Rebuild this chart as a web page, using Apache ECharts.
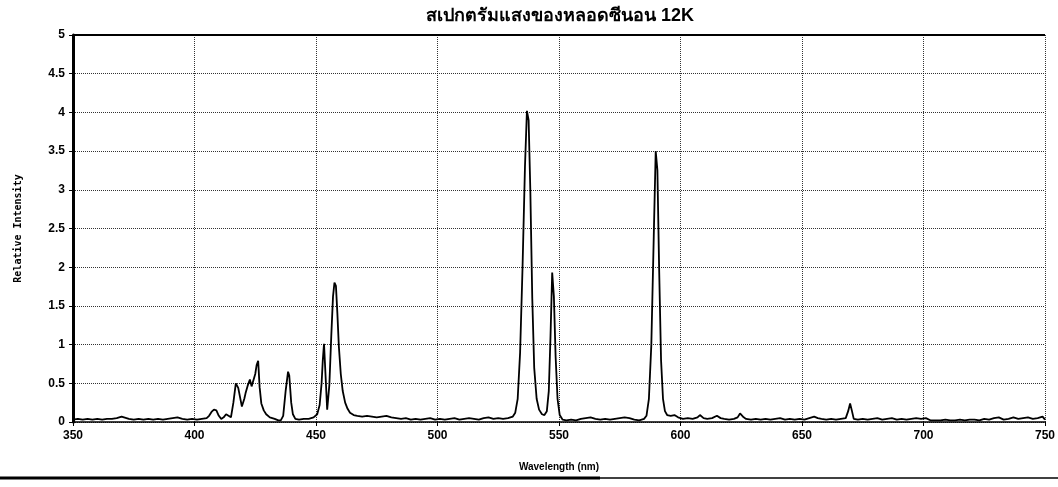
<!DOCTYPE html>
<html>
<head>
<meta charset="utf-8">
<title>Spectrum</title>
<script src="https://cdn.jsdelivr.net/npm/echarts@6/dist/echarts.min.js"></script>
<style>
	html, body { margin: 0; padding: 0; background: #fff; }
	#chart { width: 1058px; height: 487px; }
</style>
</head>
<body>
<div id="chart"></div>
<script>
// ข้อมูลสเปกตรัม [ความยาวคลื่น nm, ความเข้มสัมพัทธ์]
var titleText = 'สเปกตรัมแสงของหลอดซีนอน 12K';
var xTicks = [350, 400, 450, 500, 550, 600, 650, 700, 750];
var yTicks = [0, 0.5, 1, 1.5, 2, 2.5, 3, 3.5, 4, 4.5, 5];
var spectrum = [
	[350,0.03],[352,0.04],[354,0.03],[356,0.04],[358,0.03],[360,0.04],[362,0.03],[364,0.04],
	[366,0.04],[368,0.05],[370,0.07],[371,0.06],[373,0.04],[375,0.03],[377,0.04],[379,0.03],
	[381,0.04],[383,0.03],[385,0.04],[387,0.03],[389,0.04],[391,0.05],[393,0.06],[395,0.04],
	[397,0.03],[399,0.04],[401,0.03],[403,0.04],[405,0.05],[406,0.08],[407,0.13],[408,0.16],
	[409,0.15],[410,0.08],[411,0.04],[412,0.06],[413,0.10],[414,0.08],[415,0.06],[416,0.25],
	[417,0.50],[418,0.44],[419,0.28],[419.5,0.20],[420.5,0.30],[421,0.37],[422,0.48],[422.8,0.55],
	[423.5,0.46],[424,0.44],[425,0.62],[425.6,0.74],[426.2,0.79],[426.8,0.45],[427.5,0.24],[428.5,0.15],
	[429.5,0.10],[431,0.06],[433,0.04],[434.5,0.02],[435.5,0.02],[436.5,0.08],[437.5,0.40],[438.5,0.65],
	[439,0.60],[439.8,0.25],[440.5,0.10],[441.5,0.04],[443,0.03],[445,0.04],[447,0.04],[449,0.06],
	[450.5,0.10],[451.5,0.22],[452.3,0.50],[452.8,0.80],[453.3,1.01],[453.9,0.62],[454.6,0.16],[455.5,0.48],
	[456.3,1.12],[457,1.62],[457.6,1.80],[458.2,1.76],[458.8,1.40],[459.4,0.98],[460.2,0.62],[461,0.40],
	[462,0.25],[463,0.17],[464,0.12],[465.5,0.09],[467,0.08],[469,0.07],[471,0.08],[473,0.07],
	[475,0.06],[477,0.07],[479,0.08],[481,0.06],[483,0.05],[485,0.04],[487,0.05],[489,0.03],
	[491,0.04],[493,0.03],[495,0.04],[497,0.05],[499,0.03],[501,0.04],[503,0.03],[505,0.04],
	[507,0.05],[509,0.03],[511,0.04],[513,0.05],[515,0.04],[517,0.03],[519,0.05],[521,0.06],
	[523,0.04],[525,0.05],[527,0.04],[529,0.05],[531,0.07],[532,0.12],[533,0.30],[534,0.90],
	[535,2.00],[536,3.30],[536.8,4.02],[537.5,3.90],[538.2,3.00],[539,1.60],[539.8,0.70],[540.8,0.30],
	[541.8,0.16],[543,0.10],[544,0.09],[545,0.14],[545.8,0.40],[546.5,1.10],[547.2,1.93],[547.9,1.62],
	[548.6,0.85],[549.4,0.30],[550.3,0.09],[551.5,0.03],[553,0.02],[555,0.03],[557,0.02],[559,0.04],
	[561,0.05],[563,0.06],[565,0.04],[567,0.03],[569,0.04],[571,0.03],[573,0.04],[575,0.05],
	[577,0.06],[579,0.05],[581,0.03],[583,0.02],[585,0.04],[586,0.08],[587,0.30],[588,1.00],
	[589,2.40],[589.8,3.50],[590.5,3.25],[591.2,2.00],[592,0.80],[592.8,0.30],[593.6,0.14],[594.5,0.09],
	[596,0.08],[597.5,0.09],[599,0.06],[601,0.04],[603,0.05],[605,0.04],[607,0.06],[608,0.09],
	[609.5,0.05],[611,0.04],[613,0.05],[615,0.08],[616.5,0.05],[618,0.04],[620,0.03],[622,0.04],
	[623.5,0.06],[624.5,0.11],[625.2,0.12],[626,0.06],[627,0.04],[629,0.03],[631,0.04],[633,0.03],
	[635,0.04],[637,0.03],[639,0.04],[641,0.05],[643,0.03],[645,0.04],[647,0.03],[649,0.04],
	[651,0.03],[653,0.05],[655,0.07],[656.5,0.05],[658,0.04],[660,0.03],[662,0.04],[664,0.03],
	[666,0.04],[668,0.05],[669,0.14],[669.8,0.24],[670.5,0.15],[671.3,0.04],[673,0.03],[675,0.04],
	[677,0.03],[679,0.04],[681,0.05],[683,0.03],[685,0.04],[687,0.05],[689,0.03],[691,0.04],
	[693,0.03],[695,0.04],[697,0.05],[699,0.04],[701,0.05],[703,0.02],[705,0.02],[707,0.02],
	[709,0.03],[711,0.02],[713,0.02],[715,0.03],[717,0.02],[719,0.03],[721,0.03],[723,0.02],
	[725,0.04],[727,0.03],[729,0.05],[731,0.06],[733,0.03],[735,0.04],[737,0.06],[739,0.04],
	[741,0.05],[743,0.06],[745,0.04],[747,0.05],[749,0.07],[750,0.03]
];

var myChart = echarts.init(document.getElementById('chart'));
var labelFont = { color: '#000', fontFamily: 'Liberation Sans, Arial', fontWeight: 'bold', fontSize: 12 };

var option = {
	backgroundColor: '#fff',
	animation: false,
	title: {
		text: titleText,
		left: 421,
		top: 2,
		textStyle: { color: '#000', fontFamily: 'Liberation Sans, Noto Sans, sans-serif', fontWeight: 'bold', fontSize: 18 }
	},
	grid: { left: 73, right: 13, top: 35, bottom: 65, containLabel: false },
	xAxis: {
		type: 'value',
		min: xTicks[0],
		max: xTicks[xTicks.length - 1],
		interval: 50,
		name: 'Wavelength (nm)',
		nameLocation: 'middle',
		nameGap: 40,
		nameTextStyle: { color: '#000', fontFamily: 'Liberation Sans, Arial', fontWeight: 'bold', fontSize: 10 },
		axisLine: { lineStyle: { color: '#000', width: 1.5 } },
		axisTick: { show: true, length: 4, lineStyle: { color: '#000' } },
		axisLabel: Object.assign({ margin: 8 }, labelFont),
		splitLine: { show: true, lineStyle: { color: '#000', type: 'dotted', width: 1, opacity: 0.8 } }
	},
	yAxis: {
		type: 'value',
		min: yTicks[0],
		max: yTicks[yTicks.length - 1],
		interval: 0.5,
		name: 'Relative Intensity',
		nameLocation: 'middle',
		nameGap: 50,
		nameTextStyle: { color: '#000', fontFamily: 'DejaVu Sans Mono, monospace', fontWeight: 'bold', fontSize: 10 },
		axisLine: { show: true, lineStyle: { color: '#000', width: 3 } },
		axisTick: { show: true, length: 4, lineStyle: { color: '#000' } },
		axisLabel: Object.assign({ margin: 8 }, labelFont),
		splitLine: { show: true, lineStyle: { color: '#000', type: 'dotted', width: 1, opacity: 0.8 } }
	},
	graphic: [
		// เส้นขอบบนกราฟ
		{ type: 'line', shape: { x1: 73, y1: 35, x2: 1045, y2: 35 }, style: { stroke: '#000', lineWidth: 2 } },
		// เส้นบรรทัดของหน้าเอกสาร
		{ type: 'line', shape: { x1: 0, y1: 478, x2: 600, y2: 478 }, style: { stroke: '#000', lineWidth: 3 } },
		{ type: 'line', shape: { x1: 600, y1: 478, x2: 1058, y2: 478 }, style: { stroke: '#000', lineWidth: 1.5 } }
	],
	series: [{
		type: 'line',
		data: spectrum,
		showSymbol: false,
		smooth: false,
		lineStyle: { color: '#000', width: 1.8 }
	}]
};
myChart.setOption(option);
</script>
</body>
</html>
